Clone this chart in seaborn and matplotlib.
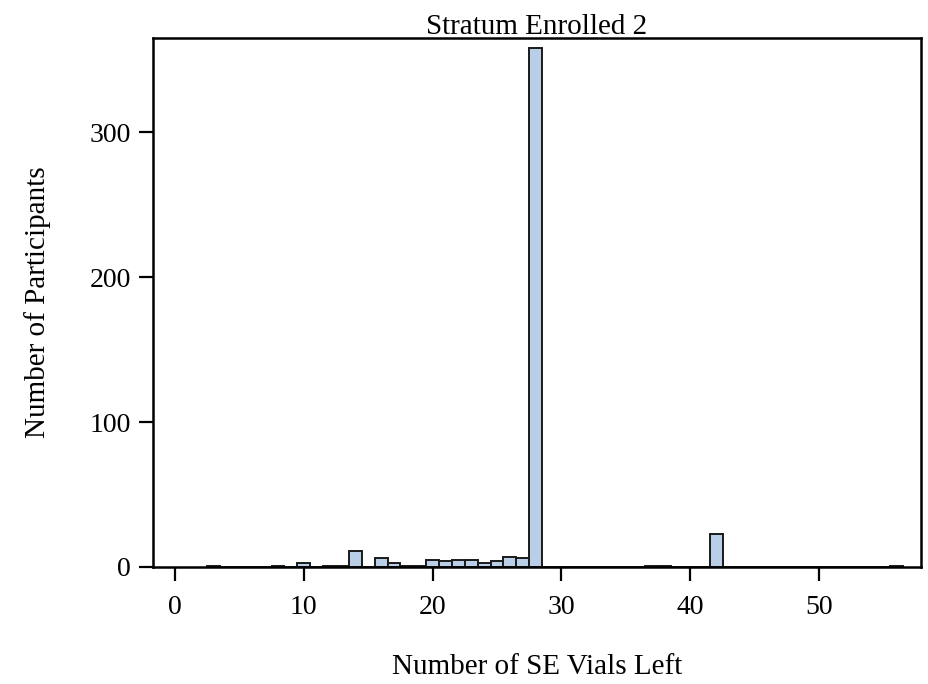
import matplotlib
matplotlib.use("Agg")
import matplotlib.pyplot as plt
import seaborn as sns
import pandas as pd

# Data
vials_left = [3, 8, 10, 12, 13, 14, 16, 17, 18, 19, 20, 21, 22, 23, 24, 25, 26, 27, 28, 37, 38, 42, 56]
participants = [1, 1, 3, 1, 1, 11, 6, 3, 1, 1, 5, 4, 5, 5, 3, 4, 7, 6, 358, 1, 1, 23, 1]
x_ticks = [0, 10, 20, 30, 40, 50]
y_ticks = [0, 100, 200, 300]

title = "Stratum Enrolled 2"
x_label = "Number of SE Vials Left"
y_label = "Number of Participants"

sns.set_theme(style="white")
plt.rcParams["font.family"] = ["Liberation Serif", "DejaVu Serif"]

df = pd.DataFrame({"vials": vials_left, "n": participants})

fig = plt.figure(figsize=(9.29, 6.84), dpi=100)
ax = fig.add_axes([153 / 929, 1 - 567 / 684, (921 - 153) / 929, (567 - 38) / 684])

sns.histplot(data=df, x="vials", weights="n", discrete=True, ax=ax,
             color="#b9cfe7", edgecolor="#1a1a1a", linewidth=1.4, alpha=1.0)

ax.set_xlim(-1.7, 57.9)
ax.set_ylim(0, 365)
ax.set_xticks(x_ticks)
ax.set_yticks(y_ticks)

ax.set_title(title, fontsize=21, pad=3, color="black")
ax.set_xlabel(x_label, fontsize=21, labelpad=25, color="black")
ax.set_ylabel(y_label, fontsize=21, labelpad=28, color="black")
ax.tick_params(axis="both", which="major", labelsize=20, direction="out",
               length=10, width=1.6, color="black", labelcolor="black",
               left=True, bottom=True)
ax.tick_params(axis="x", pad=10)
ax.tick_params(axis="y", pad=6)

for s in ax.spines.values():
    s.set_visible(True)
    s.set_color("black")
    s.set_linewidth(1.8)

ax.grid(False)
fig.savefig("out.png", dpi=100)
